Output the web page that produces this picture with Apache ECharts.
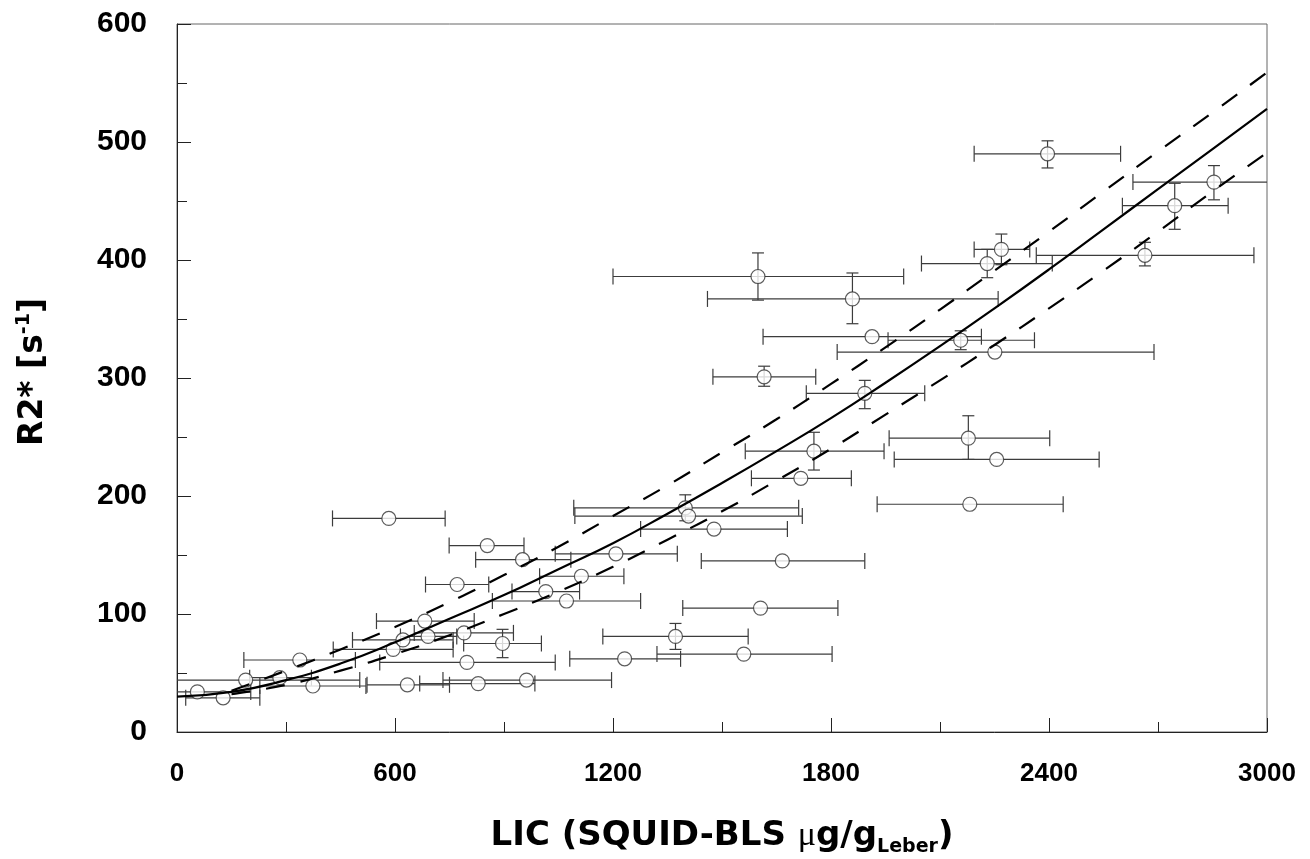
<!DOCTYPE html>
<html>
<head>
<meta charset="utf-8">
<script src="https://cdn.jsdelivr.net/npm/echarts@6/dist/echarts.min.js"></script>
<style>html,body{margin:0;padding:0;background:#fff}#chart{width:1310px;height:859px}</style>
</head>
<body>
<div id="chart"></div>
<script>
// ---- data ----
const lic   = [56,127,189,283,338,374,583,595,622,634,682,691,771,790,798,829,854,896,951,962,1015,1072,1113,1208,1232,1372,1399,1408,1478,1560,1599,1606,1616,1666,1717,1753,1859,1893,1913,2157,2178,2182,2230,2251,2256,2269,2396,2664,2746,2854];
const r2    = [34,29,44,46,61,39,181,70,78,40,94,81,125,84,59,41,158,75,146,44,119,111,132,151,62,81,190,183,172,66,386,105,301,145,215,238,367,287,335,332,249,193,397,322,231,409,490,404,446,466];
const licLo = [-91,24,-125,200,184,228,428,430,483,523,549,615,684,653,558,668,749,789,822,732,922,868,998,1041,1081,1172,1092,1095,1276,1321,1200,1392,1475,1443,1581,1564,1460,1732,1613,1957,1960,1927,2049,1817,1974,2194,2194,2365,2602,2631];
const licHi = [203,228,503,370,491,520,738,760,760,750,818,770,858,926,1041,985,955,1003,1084,1196,1108,1276,1230,1377,1386,1572,1711,1721,1680,1803,2000,1819,1758,1893,1856,1946,2260,2058,2214,2360,2402,2439,2409,2689,2538,2347,2597,2964,2893,3077];
const r2Lo  = [null,null,null,null,null,null,null,null,null,null,null,null,null,null,null,null,null,63,null,null,null,null,null,null,null,70,179,null,null,null,366,null,293,null,null,222,346,274,null,324,231,null,385,null,null,396,478,395,426,451];
const r2Hi  = [null,null,null,null,null,null,null,null,null,null,null,null,null,null,null,null,null,87,null,null,null,null,null,null,null,92,201,null,null,null,406,null,310,null,null,254,389,298,null,340,268,null,409,null,null,422,501,415,465,480];

const fitX    = [0,150,300,450,600,750,900,1050,1200,1350,1500,1650,1800,1950,2100,2250,2400,2550,2700,2850,3000];
const fitY    = [30,34,44,58,76,96,116,138,160,185,211,238,266,296,327,359,392,426,460,494,528];
const ciX     = [150,300,450,600,750,900,1050,1200,1350,1500,1650,1800,1950,2100,2250,2400,2550,2700,2850,3000];
const ciUpper = [35,52,70,89,110,133,157,183,209,237,265,295,326,358,391,424,458,492,525,559];
const ciLower = [32,40,52,66,82,100,119,140,163,187,213,240,269,298,328,359,391,424,458,491];

const xMin = 0, xMax = 3000, xStep = 600;
const yMin = 0, yMax = 600, yStep = 100;

// ---- chart ----
const chart = echarts.init(document.getElementById('chart'), null, {renderer: 'canvas'});
const BAR = '#3c3c3c';

function hBar(params, api) {
  const y = api.value(1);
  let lo = api.value(2), hi = api.value(3);
  const capLo = lo >= xMin, capHi = hi <= xMax;
  lo = Math.max(lo, xMin); hi = Math.min(hi, xMax);
  const a = api.coord([lo, y]), b = api.coord([hi, y]);
  const h = 8, st = {stroke: BAR, lineWidth: 1.2};
  const ch = [{type: 'line', shape: {x1: a[0], y1: a[1], x2: b[0], y2: b[1]}, style: st}];
  if (capLo) ch.push({type: 'line', shape: {x1: a[0], y1: a[1] - h, x2: a[0], y2: a[1] + h}, style: st});
  if (capHi) ch.push({type: 'line', shape: {x1: b[0], y1: b[1] - h, x2: b[0], y2: b[1] + h}, style: st});
  return {type: 'group', children: ch};
}
function vBar(params, api) {
  const x = api.value(0);
  const a = api.coord([x, api.value(2)]), b = api.coord([x, api.value(3)]);
  const w = 6, st = {stroke: BAR, lineWidth: 1.2};
  return {type: 'group', children: [
    {type: 'line', shape: {x1: a[0], y1: a[1], x2: b[0], y2: b[1]}, style: st},
    {type: 'line', shape: {x1: a[0] - w, y1: a[1], x2: a[0] + w, y2: a[1]}, style: st},
    {type: 'line', shape: {x1: b[0] - w, y1: b[1], x2: b[0] + w, y2: b[1]}, style: st}
  ]};
}

const hData = lic.map((x, i) => [x, r2[i], licLo[i], licHi[i]]);
const vData = [];
lic.forEach((x, i) => { if (r2Lo[i] != null) vData.push([x, r2[i], r2Lo[i], r2Hi[i]]); });

const axisFont = '"Liberation Sans", Arial, Helvetica, sans-serif';
const titleFont = '"DejaVu Sans", Verdana, sans-serif';

chart.setOption({
  animation: false,
  backgroundColor: '#fff',
  grid: {left: 177, right: 43, top: 24, bottom: 127, show: true, borderColor: '#666', borderWidth: 1, containLabel: false, outerBoundsMode: 'none'},
  xAxis: {
    type: 'value', min: xMin, max: xMax, interval: xStep,
    axisLine: {show: true, lineStyle: {color: '#222', width: 1}},
    axisTick: {show: true, inside: true, length: 14, lineStyle: {color: '#222'}},
    minorTick: {show: true, splitNumber: 2, length: 10, lineStyle: {color: '#222'}},
    splitLine: {show: false},
    axisLabel: {fontFamily: axisFont, fontWeight: 'bold', fontSize: 26, color: '#000', margin: 29,
                formatter: v => String(v)}
  },
  yAxis: {
    type: 'value', min: yMin, max: yMax, interval: yStep,
    axisLine: {show: true, lineStyle: {color: '#222', width: 1}},
    axisTick: {show: true, inside: true, length: 14, lineStyle: {color: '#222'}},
    minorTick: {show: true, splitNumber: 2, length: 10, lineStyle: {color: '#222'}},
    splitLine: {show: false},
    axisLabel: {fontFamily: axisFont, fontWeight: 'bold', fontSize: 30, color: '#000', margin: 30,
                formatter: v => String(v)}
  },
  series: [
    {type: 'custom', renderItem: hBar, data: hData, encode: {x: 0, y: 1}, z: 2, silent: true},
    {type: 'custom', renderItem: vBar, data: vData, encode: {x: 0, y: 1}, z: 2, silent: true},
    {type: 'scatter', data: lic.map((x, i) => [x, r2[i]]), symbol: 'circle', symbolSize: 14,
     itemStyle: {color: '#fff', borderColor: '#333', borderWidth: 1.2}, z: 3},
    {type: 'line', data: fitX.map((x, i) => [x, fitY[i]]), smooth: 0.5, showSymbol: false, symbol: 'none',
     lineStyle: {color: '#000', width: 2.2}, z: 4},
    {type: 'line', data: ciX.map((x, i) => [x, ciUpper[i]]), smooth: 0.5, showSymbol: false, symbol: 'none',
     lineStyle: {color: '#000', width: 2.2, type: [19, 16]}, z: 4},
    {type: 'line', data: ciX.map((x, i) => [x, ciLower[i]]), smooth: 0.5, showSymbol: false, symbol: 'none',
     lineStyle: {color: '#000', width: 2.2, type: [19, 16]}, z: 4}
  ],
  graphic: [
    {type: 'text', x: 722, y: 836, style: {
      text: '{a|LIC (SQUID-BLS }{mu|μ}{a|g/g}{sub|Leber}{a|)}',
      align: 'center', verticalAlign: 'middle',
      rich: {
        a: {fontFamily: titleFont, fontWeight: 'bold', fontSize: 34, fill: '#000', lineHeight: 40},
        mu: {fontFamily: '"Liberation Serif", serif', fontWeight: 'normal', fontSize: 34, fill: '#000', lineHeight: 40},
        sub: {fontFamily: titleFont, fontWeight: 'bold', fontSize: 19, fill: '#000', lineHeight: 40, padding: [22, 0, 0, 0]}
      }
    }},
    {type: 'text', x: 33, y: 372, rotation: Math.PI / 2, style: {
      text: '{a|R2* [s}{sup|-1}{a|]}',
      align: 'center', verticalAlign: 'middle',
      rich: {
        a: {fontFamily: titleFont, fontWeight: 'bold', fontSize: 33, fill: '#000', lineHeight: 40},
        sup: {fontFamily: titleFont, fontWeight: 'bold', fontSize: 19, fill: '#000', lineHeight: 40, padding: [0, 0, 18, 0]}
      }
    }}
  ]
});
</script>
</body>
</html>
